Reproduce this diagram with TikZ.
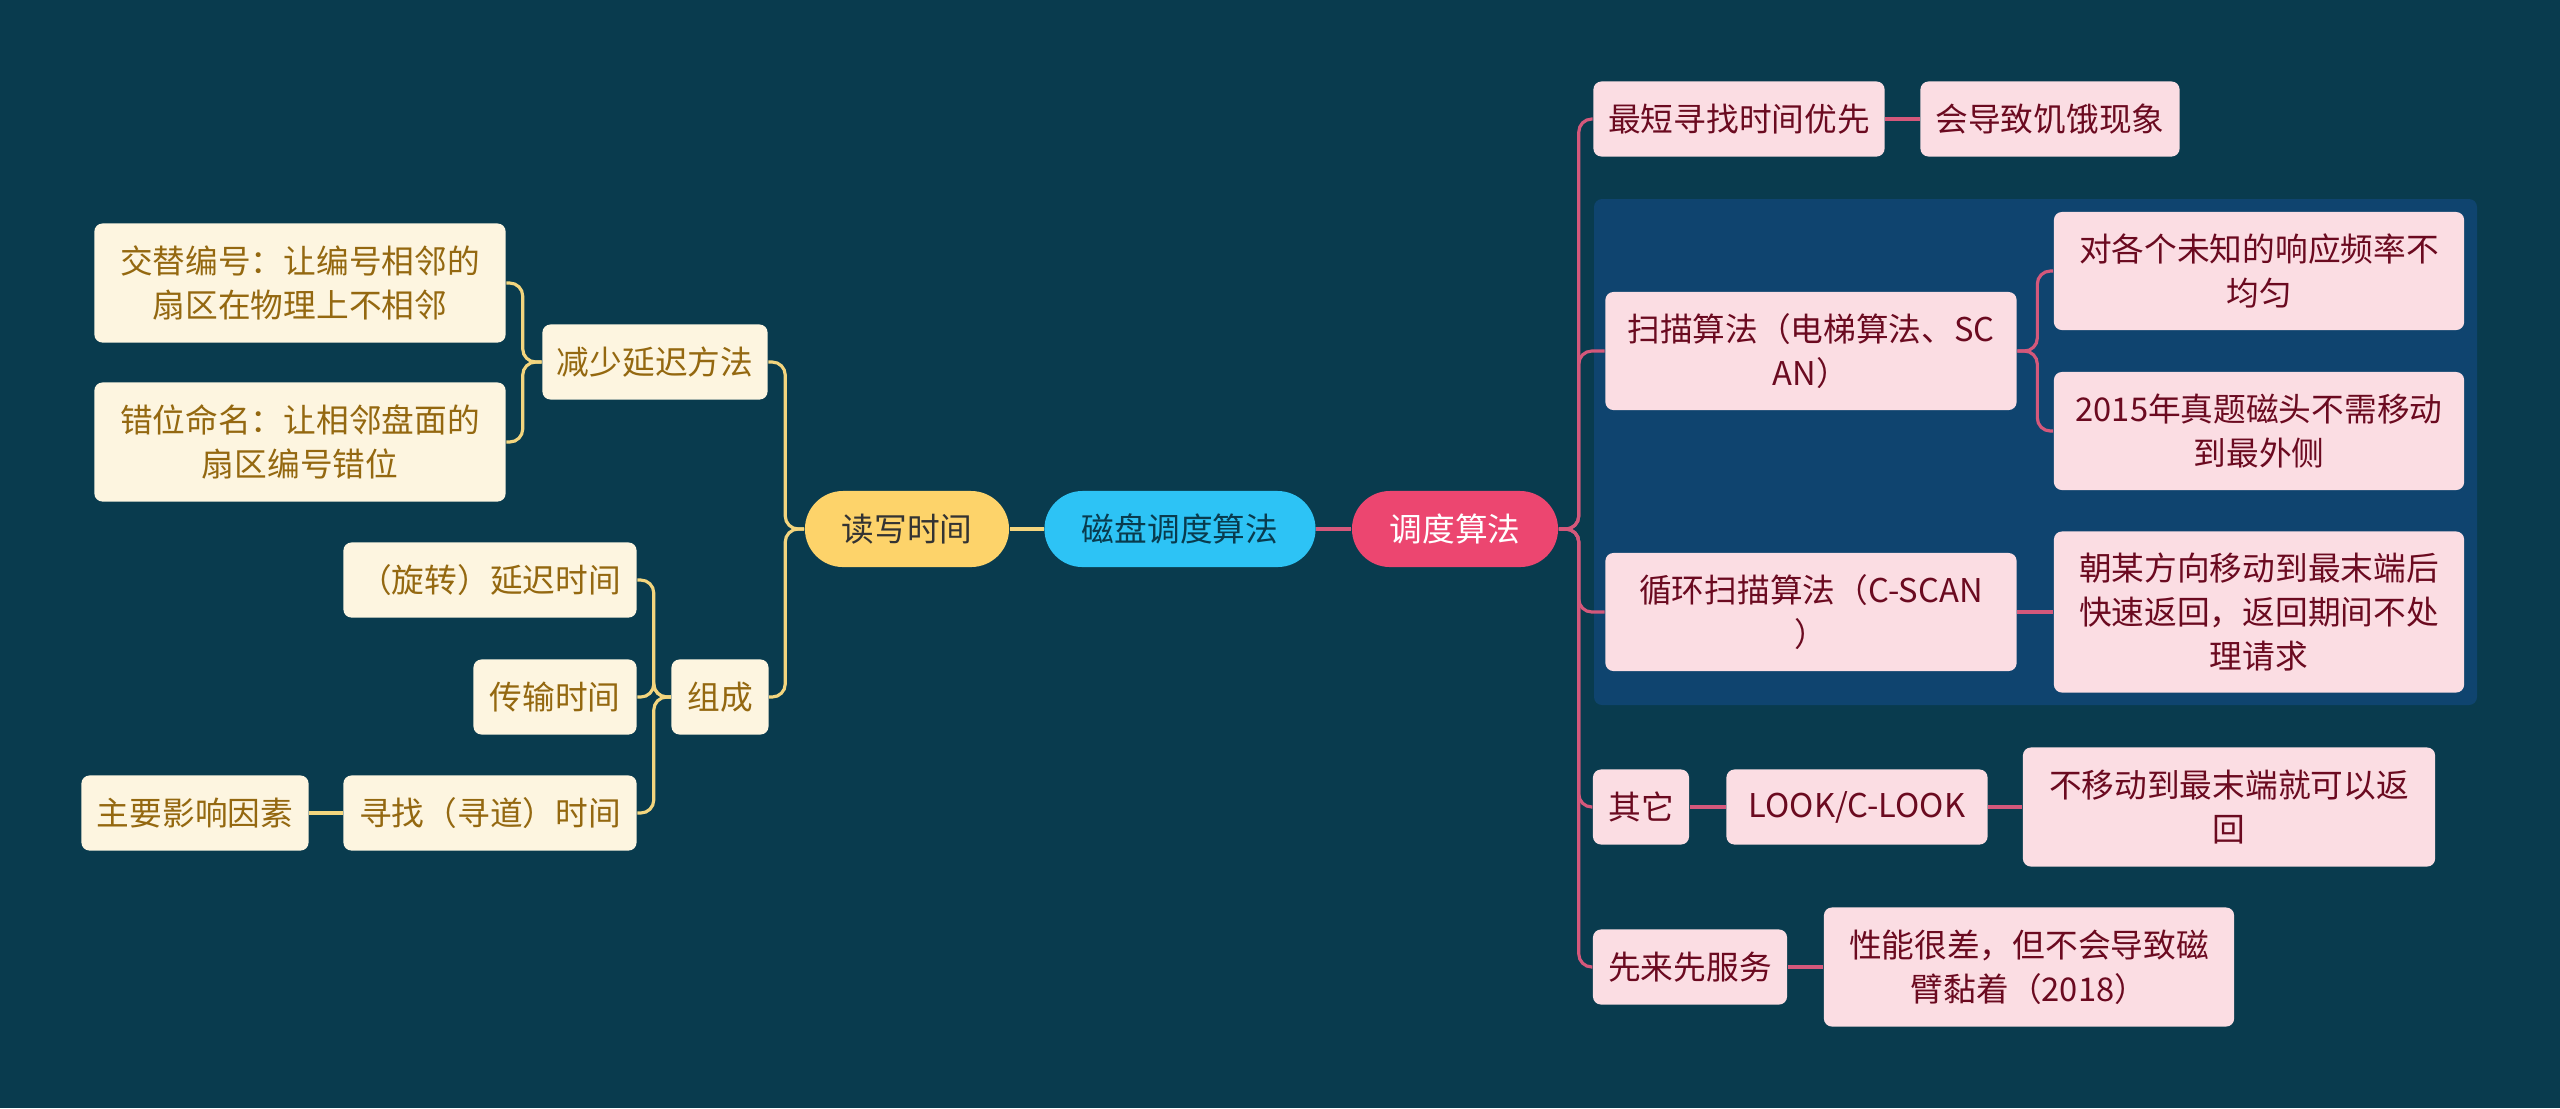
\documentclass[tikz,border=0pt]{standalone}
\usepackage{fontspec}
\setmainfont{Noto Sans CJK SC}
\usepackage{tikz}

\definecolor{bgteal}{HTML}{093B4E}
\definecolor{grpblue}{HTML}{0F446F}
\definecolor{rootY}{HTML}{FDD36A}
\definecolor{rootB}{HTML}{2DC3F5}
\definecolor{rootP}{HTML}{EC4670}
\definecolor{leafY}{HTML}{FDF5E0}
\definecolor{txtY}{HTML}{946810}
\definecolor{lineY}{HTML}{F3D57E}
\definecolor{leafP}{HTML}{FBDDE3}
\definecolor{txtP}{HTML}{6B0A20}
\definecolor{lineP}{HTML}{D4587B}

\begin{document}
\begin{tikzpicture}[
  x=0.01cm, y=-0.01cm,
  font=\fontsize{9.3pt}{12.6pt}\selectfont,
  rootnode/.style={rounded corners=0.38cm, inner sep=0pt, align=center, minimum height=0.76cm},
  leafL/.style={fill=leafY, text=txtY, rounded corners=0.08cm, inner sep=0pt, align=center, minimum height=0.75cm},
  leafR/.style={fill=leafP, text=txtP, rounded corners=0.08cm, inner sep=0pt, align=center, minimum height=0.75cm},
  lineL/.style={draw=lineY, line width=0.9pt, rounded corners=0.13cm},
  lineR/.style={draw=lineP, line width=0.9pt, rounded corners=0.13cm},
  ]

  % Background and page size
  \fill[bgteal] (0,0) rectangle (2560,1108);
  \useasboundingbox (0,0) rectangle (2560,1108);

  % Highlight of the scan group
  \fill[grpblue, rounded corners=0.08cm] (1594,199) rectangle (2477,705);

  % Roots
  \node[rootnode, fill=rootY, text=black!80, minimum width=2.04cm] (rxsj) at (907,529) {读写时间};
  \node[rootnode, fill=rootB, text=bgteal, minimum width=2.71cm] (cpdd) at (1180,529) {磁盘调度算法};
  \node[rootnode, fill=rootP, text=white, minimum width=2.06cm] (ddsf) at (1455,529) {调度算法};

  % Left branch
  \node[leafL, minimum width=2.25cm] (jsyc) at (655,362) {减少延迟方法};
  \node[leafL, minimum width=4.11cm, minimum height=1.19cm] (jtbh) at (300,283) {交替编号：让编号相邻的\\扇区在物理上不相邻};
  \node[leafL, minimum width=4.11cm, minimum height=1.19cm] (cwmm) at (300,442) {错位命名：让相邻盘面的\\扇区编号错位};
  \node[leafL, minimum width=0.97cm] (zc) at (720,697) {组成};
  \node[leafL, minimum width=2.93cm] (xzyc) at (490,580) {（旋转）延迟时间};
  \node[leafL, minimum width=1.63cm] (cssj) at (555,697) {传输时间};
  \node[leafL, minimum width=2.93cm] (xzsj) at (490,813) {寻找（寻道）时间};
  \node[leafL, minimum width=2.27cm] (zyys) at (195,813) {主要影响因素};

  % Right branch
  \node[leafR, minimum width=2.91cm] (zdxz) at (1739,119) {最短寻找时间优先};
  \node[leafR, minimum width=2.59cm] (hdzj) at (2050,119) {会导致饥饿现象};
  \node[leafR, minimum width=4.11cm, minimum height=1.18cm] (smsf) at (1811,351) {扫描算法（电梯算法、SC\\AN）};
  \node[leafR, minimum width=4.10cm, minimum height=1.18cm] (dgg) at (2259,271) {对各个未知的响应频率不\\均匀};
  \node[leafR, minimum width=4.10cm, minimum height=1.18cm] (zt15) at (2259,431) {2015年真题磁头不需移动\\到最外侧};
  \node[leafR, minimum width=4.11cm, minimum height=1.18cm] (xhsm) at (1811,612) {循环扫描算法（C-SCAN\\）};
  \node[leafR, minimum width=4.10cm, minimum height=1.61cm] (cmfx) at (2259,612) {朝某方向移动到最末端后\\快速返回，返回期间不处\\理请求};
  \node[leafR, minimum width=0.96cm] (qt) at (1641,807) {其它};
  \node[leafR, minimum width=2.61cm] (look) at (1857,807) {LOOK/C-LOOK};
  \node[leafR, minimum width=4.12cm, minimum height=1.19cm] (bydz) at (2229,807) {不移动到最末端就可以返\\回};
  \node[leafR, minimum width=1.94cm] (xlxf) at (1690,967) {先来先服务};
  \node[leafR, minimum width=4.10cm, minimum height=1.19cm] (xnhc) at (2029,967) {性能很差，但不会导致磁\\臂黏着（2018）};

  % Connectors, left
  \draw[lineL] (rxsj) -- (cpdd);
  \foreach \c in {jsyc, zc} {
    \draw[lineL] (rxsj.west) -- ++(-19,0) |- (\c.east);
  }
  \foreach \c in {jtbh, cwmm} {
    \draw[lineL] (jsyc.west) -- ++(-19,0) |- (\c.east);
  }
  \foreach \c in {xzyc, cssj, xzsj} {
    \draw[lineL] (zc.west) -- ++(-17,0) |- (\c.east);
  }
  \draw[lineL] (xzsj) -- (zyys);

  % Connectors, right
  \draw[lineR] (cpdd) -- (ddsf);
  \foreach \c in {zdxz, smsf, xhsm, qt, xlxf} {
    \draw[lineR] (ddsf.east) -- ++(20,0) |- (\c.west);
  }
  \draw[lineR] (zdxz) -- (hdzj);
  \foreach \c in {dgg, zt15} {
    \draw[lineR] (smsf.east) -- ++(20,0) |- (\c.west);
  }
  \draw[lineR] (xhsm) -- (cmfx);
  \draw[lineR] (qt) -- (look);
  \draw[lineR] (look) -- (bydz);
  \draw[lineR] (xlxf) -- (xnhc);

\end{tikzpicture}
\end{document}
